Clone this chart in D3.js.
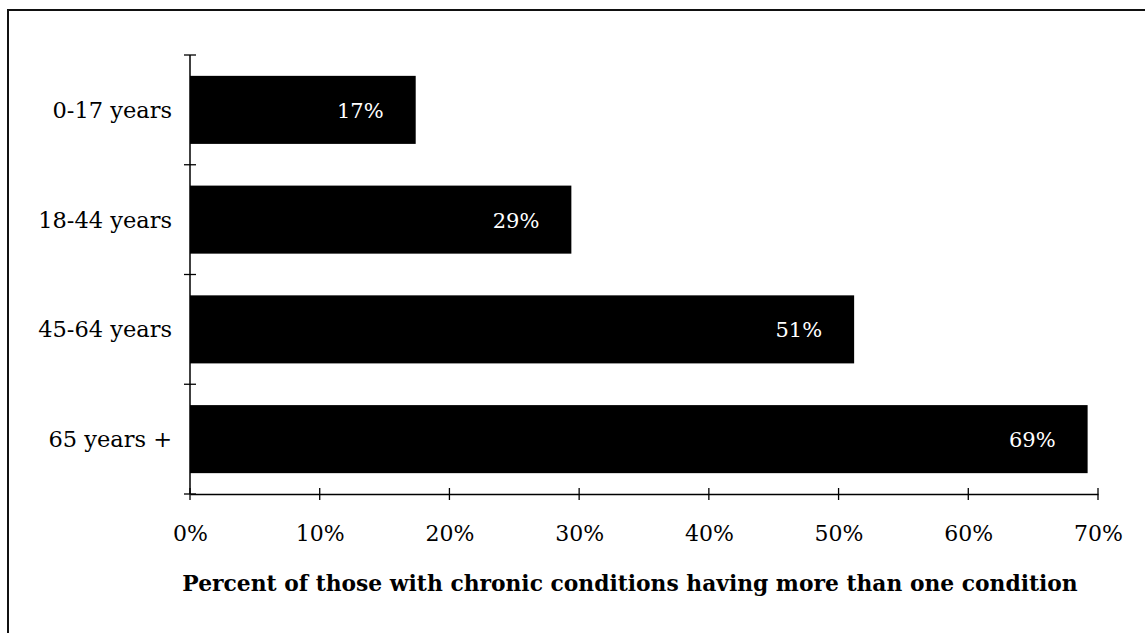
<!DOCTYPE html>
<html>
<head>
<meta charset="utf-8">
<script src="https://cdn.jsdelivr.net/npm/d3@7"></script>
<style>
  html, body { margin: 0; padding: 0; background: #fff; }
  svg { display: block; }
</style>
</head>
<body>
<svg id="chart" width="1145" height="633"></svg>
<script>
const categories = ["0-17 years", "18-44 years", "45-64 years", "65 years +"];
const values = [0.174, 0.294, 0.512, 0.692];
const valueLabels = ["17%", "29%", "51%", "69%"];
const xTicks = [0, 0.1, 0.2, 0.3, 0.4, 0.5, 0.6, 0.7];
const xTitle = "Percent of those with chronic conditions having more than one condition";

const svg = d3.select("#chart");
const W = 1145, H = 633;
const serif = "'DejaVu Serif', 'Liberation Serif', serif";

// frame
svg.append("path")
  .attr("d", `M8,${H} L8,10 L${W},10`)
  .attr("fill", "none").attr("stroke", "#111").attr("stroke-width", 2);

const x = d3.scaleLinear().domain([0, 0.7]).range([190, 1098]);
const y = d3.scaleBand().domain(categories).range([55, 494]).padding(0);
const barFrac = 0.62;

// bars
svg.append("g").selectAll("rect").data(categories).join("rect")
  .attr("x", x(0))
  .attr("y", d => y(d) + y.bandwidth() * (1 - barFrac) / 2)
  .attr("width", (d, i) => x(values[i]) - x(0))
  .attr("height", y.bandwidth() * barFrac)
  .attr("fill", "#000");

// value labels
svg.append("g").selectAll("text").data(categories).join("text")
  .attr("x", (d, i) => x(values[i]) - 32)
  .attr("y", d => y(d) + y.bandwidth() / 2 + 8)
  .attr("text-anchor", "end")
  .attr("fill", "#fff")
  .attr("font-family", serif)
  .attr("font-size", 21)
  .text((d, i) => valueLabels[i]);

// y axis line
svg.append("line")
  .attr("x1", x(0)).attr("x2", x(0))
  .attr("y1", 55).attr("y2", 494)
  .attr("stroke", "#000").attr("stroke-width", 1.5);

// y ticks at band boundaries (cross style)
const yTickPos = categories.map(c => y(c)).concat([y.range()[1]]);
svg.append("g").selectAll("line").data(yTickPos).join("line")
  .attr("x1", x(0) - 6).attr("x2", x(0) + 6)
  .attr("y1", d => d).attr("y2", d => d)
  .attr("stroke", "#000").attr("stroke-width", 1.3);

// category labels
svg.append("g").selectAll("text").data(categories).join("text")
  .attr("x", 172)
  .attr("y", d => y(d) + y.bandwidth() / 2 + 8)
  .attr("text-anchor", "end")
  .attr("fill", "#000")
  .attr("font-family", serif)
  .attr("font-size", 22.5)
  .text(d => d);

// x axis
const xAxis = d3.axisBottom(x).tickValues(xTicks).tickFormat(d3.format(".0%")).tickSize(0);
const gx = svg.append("g").attr("transform", "translate(0,494)").call(xAxis);
gx.select(".domain").attr("stroke", "#000").attr("stroke-width", 1.5);
gx.selectAll(".tick line").remove();
gx.selectAll(".tick text")
  .attr("y", 47).attr("dy", null)
  .attr("font-family", serif).attr("font-size", 22).attr("fill", "#000");

// cross ticks for x
svg.append("g").selectAll("line").data(xTicks).join("line")
  .attr("x1", d => x(d)).attr("x2", d => x(d))
  .attr("y1", 488).attr("y2", 500)
  .attr("stroke", "#000").attr("stroke-width", 1.3);

// x title
svg.append("text")
  .attr("x", 630).attr("y", 591)
  .attr("text-anchor", "middle")
  .attr("font-family", serif)
  .attr("font-weight", "bold")
  .attr("font-size", 21.8)
  .attr("fill", "#000")
  .text(xTitle);
</script>
</body>
</html>
